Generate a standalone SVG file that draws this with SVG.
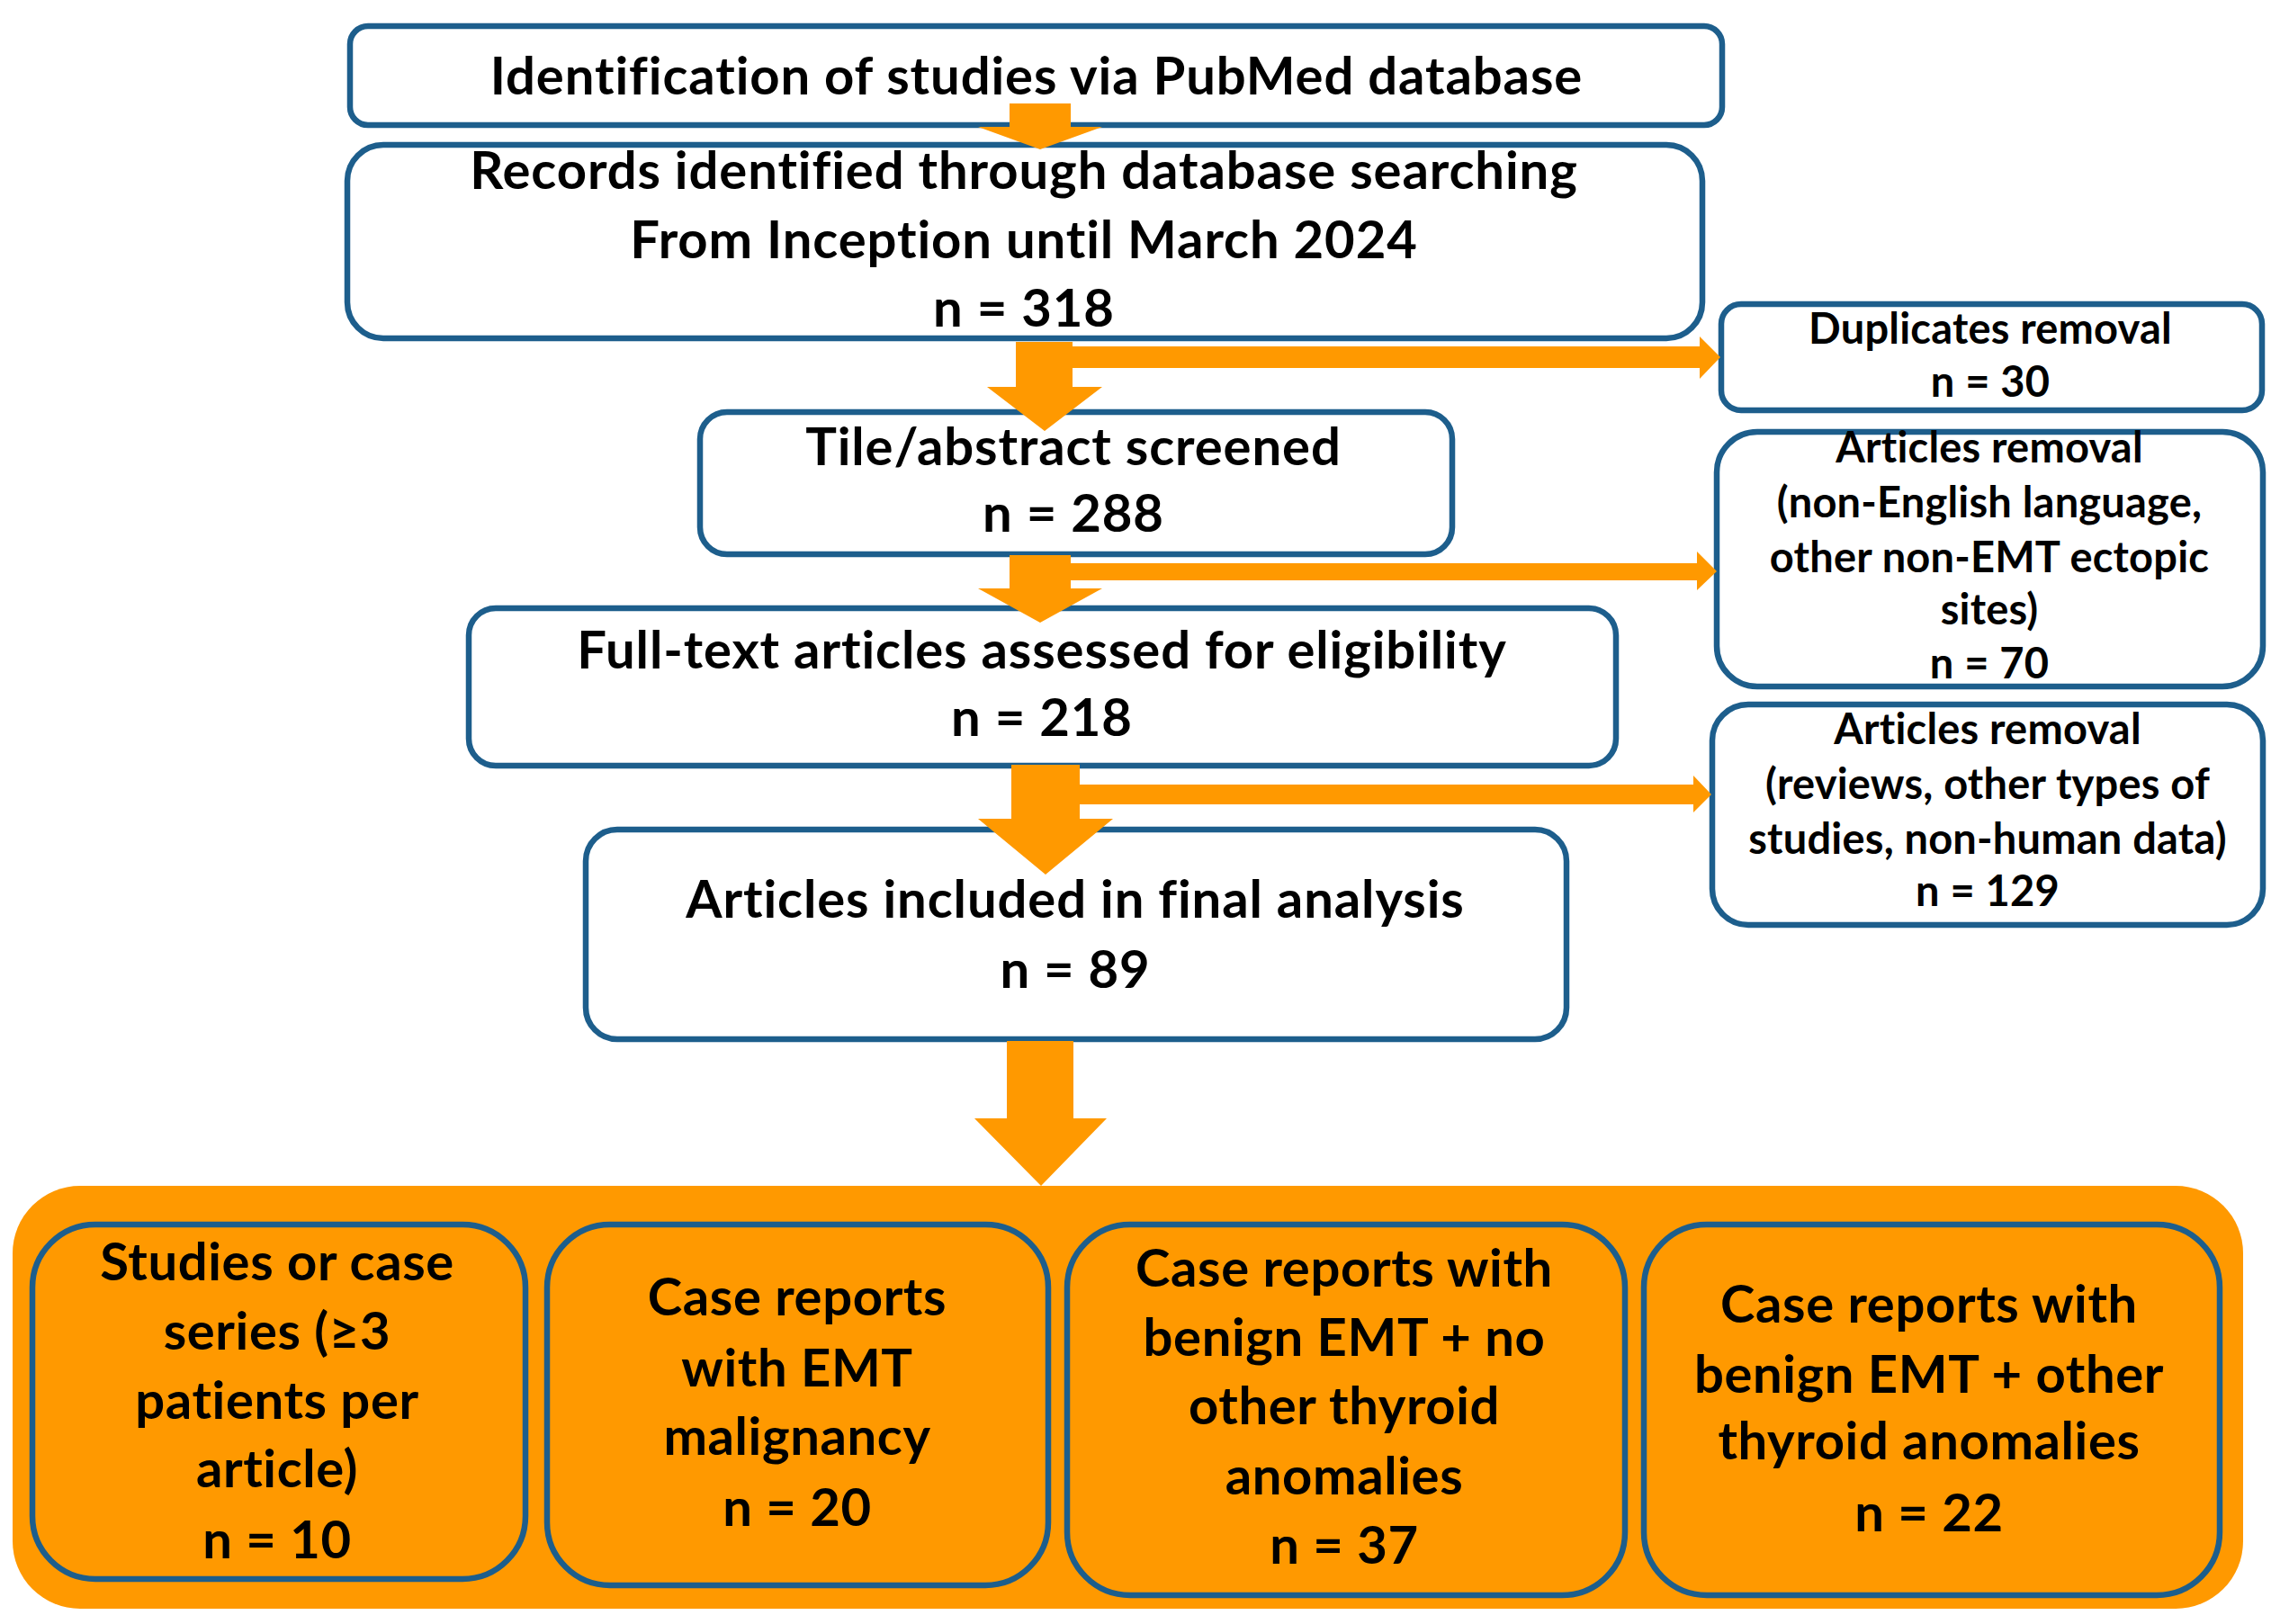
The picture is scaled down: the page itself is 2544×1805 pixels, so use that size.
<svg xmlns="http://www.w3.org/2000/svg" width="2544" height="1805" viewBox="0 0 2544 1805">
<style>
.box{fill:#ffffff;stroke:#1d5e8c;stroke-width:6.5}
.ibox{fill:#ff9900;stroke:#1d5e8c;stroke-width:6.5}
.arr{fill:#ff9900}
text{font-family:Lato,"Liberation Sans",sans-serif;font-weight:700;fill:#000;text-anchor:middle}
.m{font-size:58px;letter-spacing:0.9px}
.s{font-size:47px;letter-spacing:0.2px}
.b{font-size:58px;letter-spacing:0.6px}
</style>
<rect x="0" y="0" width="2544" height="1805" fill="#ffffff"/>
<g id="identification">
<rect class="box" x="389" y="29" width="1525" height="110" rx="20"/>
<text class="m" x="1152" y="105">Identification of studies via PubMed database</text>
</g>
<g id="records">
<rect class="box" x="386" y="161" width="1506" height="215" rx="40"/>
<text class="m" x="1138" y="210">Records identified through database searching</text>
<text class="m" x="1138" y="287">From Inception until March 2024</text>
<text class="m" x="1138" y="363">n = 318</text>
</g>
<g id="screened">
<rect class="box" x="778" y="458" width="836" height="158" rx="30"/>
<text class="m" x="1193" y="517">Tile/abstract screened</text>
<text class="m" x="1193" y="591">n = 288</text>
</g>
<g id="fulltext">
<rect class="box" x="521" y="676" width="1275" height="175" rx="30"/>
<text class="m" x="1158" y="743">Full-text articles assessed for eligibility</text>
<text class="m" x="1158" y="818">n = 218</text>
</g>
<g id="included">
<rect class="box" x="651" y="922" width="1090" height="233" rx="35"/>
<text class="m" x="1195" y="1020">Articles included in final analysis</text>
<text class="m" x="1195" y="1098">n = 89</text>
</g>
<g id="duplicates">
<rect class="box" x="1913" y="338" width="601" height="118" rx="22"/>
<text class="s" x="2212" y="382">Duplicates removal</text>
<text class="s" x="2212" y="441">n = 30</text>
</g>
<g id="removal1">
<rect class="box" x="1908" y="480" width="607" height="283" rx="45"/>
<text class="s" x="2211" y="514">Articles removal</text>
<text class="s" x="2211" y="575">(non-English language,</text>
<text class="s" x="2211" y="636">other non-EMT ectopic</text>
<text class="s" x="2211" y="694">sites)</text>
<text class="s" x="2211" y="754">n = 70</text>
</g>
<g id="removal2">
<rect class="box" x="1903" y="783" width="612" height="245" rx="40"/>
<text class="s" x="2209" y="827">Articles removal</text>
<text class="s" x="2209" y="888">(reviews, other types of</text>
<text class="s" x="2209" y="949">studies, non-human data)</text>
<text class="s" x="2209" y="1007">n = 129</text>
</g>
<g id="categories">
<rect x="14" y="1318" width="2479" height="470" rx="75" fill="#ff9900"/>
</g>
<g id="studies">
<rect class="ibox" x="36" y="1361" width="548" height="394" rx="70"/>
<text class="b" x="308" y="1423">Studies or case</text>
<text class="b" x="308" y="1500">series (≥3</text>
<text class="b" x="308" y="1577">patients per</text>
<text class="b" x="308" y="1653">article)</text>
<text class="b" x="308" y="1732">n = 10</text>
</g>
<g id="malignancy">
<rect class="ibox" x="608" y="1361" width="557" height="401" rx="70"/>
<text class="b" x="886" y="1462">Case reports</text>
<text class="b" x="886" y="1541">with EMT</text>
<text class="b" x="886" y="1617">malignancy</text>
<text class="b" x="886" y="1696">n = 20</text>
</g>
<g id="benign-no">
<rect class="ibox" x="1186" y="1361" width="620" height="412" rx="70"/>
<text class="b" x="1494" y="1430">Case reports with</text>
<text class="b" x="1494" y="1507">benign EMT + no</text>
<text class="b" x="1494" y="1583">other thyroid</text>
<text class="b" x="1494" y="1661">anomalies</text>
<text class="b" x="1494" y="1738">n = 37</text>
</g>
<g id="benign-other">
<rect class="ibox" x="1827" y="1361" width="640" height="412" rx="70"/>
<text class="b" x="2144" y="1470">Case reports with</text>
<text class="b" x="2144" y="1548">benign EMT + other</text>
<text class="b" x="2144" y="1622">thyroid anomalies</text>
<text class="b" x="2144" y="1702">n = 22</text>
</g>
<g id="connectors">
<polygon class="arr" points="1122,115 1190,115 1190,141 1225,141 1156,166 1087,141 1122,141"/>
<polygon class="arr" points="1129,380 1192,380 1192,430 1225,430 1161,479 1097,430 1129,430"/>
<rect class="arr" x="1190" y="385" width="700" height="24"/>
<polygon class="arr" points="1889,374 1912,397 1889,421"/>
<polygon class="arr" points="1122,617 1190,617 1190,654 1225,654 1156,692 1087,654 1122,654"/>
<rect class="arr" x="1190" y="626" width="697" height="19"/>
<polygon class="arr" points="1886,613 1908,635 1886,656"/>
<polygon class="arr" points="1124,850 1200,850 1200,910 1237,910 1162,972 1087,910 1124,910"/>
<rect class="arr" x="1200" y="872" width="683" height="22"/>
<polygon class="arr" points="1882,862 1902,883 1882,903"/>
<polygon class="arr" points="1119,1157 1193,1157 1193,1243 1230,1243 1157,1318 1083,1243 1119,1243"/>
</g>
</svg>
